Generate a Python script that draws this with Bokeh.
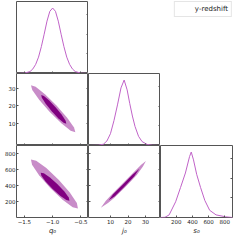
import math
from bokeh.plotting import figure
from bokeh.layouts import gridplot
from bokeh.models import Range1d, FixedTicker, LinearAxis, Label, Legend, LegendItem
from bokeh.embed import file_html
from bokeh.resources import INLINE

# ---------------- data ----------------
q0_range = (-1.64, -0.365)
j0_range = (-2.5, 38.5)
s0_range = (5.0, 895.0)
pdf_range = (0.0, 1.1)

q0_ticks = [-1.5, -1.0, -0.5]
q0_tick_labels = ["−1.5", "−1.0", "−0.5"]
j0_ticks = [10, 20, 30]
j0_tick_labels = ["10", "20", "30"]
s0_ticks = [200, 400, 600, 800]
s0_tick_labels = ["200", "400", "600", "800"]
pdf_ticks = [0.3, 0.6, 0.9]

q0_label = "q₀"
j0_label = "j₀"
s0_label = "s₀"
series_name = "y-redshift"

# 1D marginals (normalised to peak = 1)
q0_grid = [-1.64, -1.5, -1.4, -1.35, -1.3, -1.25, -1.2, -1.15, -1.1, -1.05, -1.0,
           -0.95, -0.9, -0.85, -0.8, -0.75, -0.7, -0.65, -0.6, -0.5, -0.365]
q0_pdf = [0.0, 0.005, 0.03, 0.07, 0.14, 0.25, 0.41, 0.6, 0.8, 0.95, 1.0,
          0.95, 0.8, 0.6, 0.41, 0.25, 0.14, 0.07, 0.03, 0.005, 0.0]

j0_grid = [-2.5, 3, 6, 8, 10, 12, 14, 16, 17.8, 19.5, 21, 22.5, 24, 26, 28, 31, 34, 38.5]
j0_pdf = [0.0, 0.003, 0.02, 0.07, 0.18, 0.38, 0.62, 0.88, 1.0, 0.85, 0.64, 0.45,
          0.29, 0.14, 0.06, 0.015, 0.003, 0.0]

s0_grid = [5, 60, 112, 192, 253, 313, 364, 385, 413, 452, 500, 553, 613, 692, 812, 895]
s0_pdf = [0.0, 0.003, 0.04, 0.24, 0.46, 0.68, 0.93, 1.0, 0.88, 0.66, 0.46, 0.26,
          0.11, 0.04, 0.01, 0.0]

# 2D contours (95% outer, 68% inner) as outlines
q0j0_95_q = [-1.384, -1.301, -1.136, -0.932, -0.743, -0.621, -0.598, -0.681, -0.846, -1.051, -1.239, -1.361]
q0j0_95_j = [31.8, 30.9, 26.67, 20.21, 13.27, 7.70, 5.0, 5.90, 10.13, 16.59, 23.53, 29.10]
q0j0_68_q = [-1.202, -1.154, -1.060, -0.944, -0.838, -0.770, -0.758, -0.806, -0.901, -1.016, -1.123, -1.191]
q0j0_68_j = [26.3, 25.75, 23.15, 19.2, 14.95, 11.55, 9.9, 10.45, 13.05, 17.0, 21.25, 24.65]

q0s0_95_q = [-1.384, -1.291, -1.112, -0.894, -0.696, -0.571, -0.552, -0.645, -0.824, -1.042, -1.240, -1.365]
q0s0_95_s = [723, 708, 616, 471, 313, 183, 117, 132, 224, 369, 527, 657]
q0s0_68_q = [-1.212, -1.156, -1.047, -0.914, -0.792, -0.715, -0.702, -0.758, -0.867, -1.0, -1.122, -1.199]
q0s0_68_s = [559, 551, 499, 416, 326, 251, 213, 221, 274, 356, 447, 521]

j0s0_95_j = [4.5, 8.6, 11.9, 18.5, 25.0, 28.5, 30.2, 27.5, 23.4, 16.8, 10.3, 7.4]
j0s0_95_s = [127, 185, 243, 383, 531, 635, 702, 657, 567, 421, 279, 211]
j0s0_68_j = [9.0, 12.5, 18.2, 23.5, 26.5, 22.5, 17.1, 11.5]
j0s0_68_s = [218, 269, 390, 511, 608, 533, 414, 291]

# ---------------- style ----------------
DARK = "#800080"
LIGHT = "#c88cc8"
LINE = "#c063c8"
FRAME = "#555555"
TICK = "#555555"
TXT = "#222222"
FONT = "DejaVu Sans"
PW = 72
LB = 16
BB = 16


def panel(xr, yr, left=0, right=0, top=0, bottom=0, outline=True):
    p = figure(x_range=Range1d(*xr), y_range=Range1d(*yr),
               frame_width=PW, frame_height=PW,
               min_border_left=left, min_border_right=right,
               min_border_top=top, min_border_bottom=bottom,
               x_axis_type=None, y_axis_type=None,
               output_backend="svg", toolbar_location=None)
    p.outline_line_color = FRAME if outline else None
    p.outline_line_width = 1
    p.background_fill_color = "white"
    p.border_fill_color = "white"
    return p


def add_axis(p, side, ticks, labels=None, axis_label=None):
    ax = LinearAxis(ticker=FixedTicker(ticks=ticks))
    ax.axis_line_color = None
    ax.major_tick_in = 2
    ax.major_tick_out = 0
    ax.minor_tick_in = 0
    ax.minor_tick_out = 0
    ax.major_tick_line_color = TICK
    if labels:
        ax.major_label_overrides = dict(zip(ticks, labels))
        ax.major_label_text_font_size = "5.5px"
        ax.major_label_text_font = FONT
        ax.major_label_text_color = TXT
        ax.major_label_standoff = 1
    else:
        ax.major_label_text_font_size = "0px"
        ax.major_label_text_color = None
        ax.major_label_standoff = 0
    if axis_label:
        ax.axis_label = axis_label
        ax.axis_label_text_font_size = "7px"
        ax.axis_label_text_font = FONT
        ax.axis_label_text_font_style = "italic"
        ax.axis_label_text_color = TXT
        ax.axis_label_standoff = 0
    p.add_layout(ax, side)
    return ax


def ylabel(p, xr, yr, text):
    p.add_layout(Label(x=xr[0], y=(yr[0] + yr[1]) / 2, x_offset=-12, text=text,
                       angle=math.pi / 2, text_align="center", text_baseline="middle",
                       text_font_size="7px", text_font=FONT, text_font_style="italic",
                       text_color=TXT))


# row 0
p00 = panel(q0_range, pdf_range, left=LB, top=1)
p00.line(q0_grid, q0_pdf, line_color=LINE, line_width=1)
add_axis(p00, "below", q0_ticks)
add_axis(p00, "right", pdf_ticks)

pl = panel((0, 1), (0, 1), right=1, top=1, outline=False)
r_leg = pl.patch(x=[], y=[], fill_color=DARK, line_color=DARK)
leg = Legend(items=[LegendItem(label=series_name, renderers=[r_leg])], location="top_right")
leg.margin = 0
leg.padding = 3
leg.spacing = 0
leg.glyph_width = 13
leg.glyph_height = 5
leg.label_height = 8
leg.label_width = 10
leg.label_standoff = 4
leg.label_text_font_size = "7px"
leg.label_text_font = FONT
leg.label_text_color = TXT
leg.border_line_color = "#cccccc"
leg.border_line_width = 1
leg.background_fill_color = "white"
leg.background_fill_alpha = 0.9
pl.add_layout(leg)

# row 1
p10 = panel(q0_range, j0_range, left=LB)
p10.patch(q0j0_95_q, q0j0_95_j, fill_color=LIGHT, line_color=None)
p10.patch(q0j0_68_q, q0j0_68_j, fill_color=DARK, line_color=None)
add_axis(p10, "left", j0_ticks, j0_tick_labels)
add_axis(p10, "right", j0_ticks)
add_axis(p10, "below", q0_ticks)
ylabel(p10, q0_range, j0_range, j0_label)

p11 = panel(j0_range, pdf_range)
p11.line(j0_grid, j0_pdf, line_color=LINE, line_width=1)
add_axis(p11, "below", j0_ticks)
add_axis(p11, "right", pdf_ticks)

# row 2
p20 = panel(q0_range, s0_range, left=LB, bottom=BB)
p20.patch(q0s0_95_q, q0s0_95_s, fill_color=LIGHT, line_color=None)
p20.patch(q0s0_68_q, q0s0_68_s, fill_color=DARK, line_color=None)
add_axis(p20, "left", s0_ticks, s0_tick_labels)
add_axis(p20, "right", s0_ticks)
add_axis(p20, "below", q0_ticks, q0_tick_labels, q0_label)
ylabel(p20, q0_range, s0_range, s0_label)

p21 = panel(j0_range, s0_range, bottom=BB)
p21.patch(j0s0_95_j, j0s0_95_s, fill_color=LIGHT, line_color=None)
p21.patch(j0s0_68_j, j0s0_68_s, fill_color=DARK, line_color=None)
add_axis(p21, "left", s0_ticks)
add_axis(p21, "right", s0_ticks)
add_axis(p21, "below", j0_ticks, j0_tick_labels, j0_label)

p22 = panel(s0_range, pdf_range, right=1, bottom=BB)
p22.line(s0_grid, s0_pdf, line_color=LINE, line_width=1)
add_axis(p22, "below", s0_ticks, s0_tick_labels, s0_label)
add_axis(p22, "right", pdf_ticks)

grid = gridplot([[p00, None, pl], [p10, p11, None], [p20, p21, p22]],
                toolbar_location=None)

open("out.html", "w").write(file_html(grid, INLINE))
